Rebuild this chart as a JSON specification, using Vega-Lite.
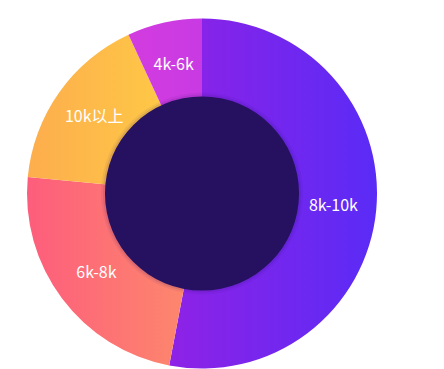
{
  "$schema": "https://vega.github.io/schema/vega-lite/v6.json",
  "width": 350,
  "height": 350,
  "autosize": {"type": "none"},
  "padding": {"left": 27, "top": 18.5, "right": 0, "bottom": 0},
  "background": "#ffffff",
  "view": {"stroke": null},
  "datasets": {
    "salary": [
      {"range": "8k-10k", "value": 53.0, "rank": 1},
      {"range": "6k-8k", "value": 23.5, "rank": 2},
      {"range": "10k以上", "value": 16.6, "rank": 3},
      {"range": "4k-6k", "value": 6.9, "rank": 4}
    ],
    "hole": [{"part": "center"}]
  },
  "layer": [
    {
      "data": {"name": "salary"},
      "transform": [
        {"stack": "value", "groupby": [], "sort": [{"field": "rank", "order": "ascending"}], "as": ["t0", "t1"]},
        {"filter": "datum.range === '8k-10k'"}
      ],
      "mark": {"type": "arc", "outerRadius": 175, "innerRadius": 90,
        "fill": {"gradient": "linear", "x1": 0, "y1": 0, "x2": 1, "y2": 0, "stops": [{"offset": 0, "color": "#8f22e6"}, {"offset": 1, "color": "#5a2bf6"}]}},
      "encoding": {
        "theta": {"field": "t0", "type": "quantitative", "scale": {"domain": [0, 100]}},
        "theta2": {"field": "t1"}
      }
    },
    {
      "data": {"name": "salary"},
      "transform": [
        {"stack": "value", "groupby": [], "sort": [{"field": "rank", "order": "ascending"}], "as": ["t0", "t1"]},
        {"filter": "datum.range === '6k-8k'"}
      ],
      "mark": {"type": "arc", "outerRadius": 175, "innerRadius": 90,
        "fill": {"gradient": "linear", "x1": 0, "y1": 0, "x2": 1, "y2": 0, "stops": [{"offset": 0, "color": "#fd5d7c"}, {"offset": 1, "color": "#fd876d"}]}},
      "encoding": {
        "theta": {"field": "t0", "type": "quantitative", "scale": {"domain": [0, 100]}},
        "theta2": {"field": "t1"}
      }
    },
    {
      "data": {"name": "salary"},
      "transform": [
        {"stack": "value", "groupby": [], "sort": [{"field": "rank", "order": "ascending"}], "as": ["t0", "t1"]},
        {"filter": "datum.range === '10k以上'"}
      ],
      "mark": {"type": "arc", "outerRadius": 175, "innerRadius": 90,
        "fill": {"gradient": "linear", "x1": 0, "y1": 0, "x2": 1, "y2": 0, "stops": [{"offset": 0, "color": "#fdad4d"}, {"offset": 1, "color": "#fec846"}]}},
      "encoding": {
        "theta": {"field": "t0", "type": "quantitative", "scale": {"domain": [0, 100]}},
        "theta2": {"field": "t1"}
      }
    },
    {
      "data": {"name": "salary"},
      "transform": [
        {"stack": "value", "groupby": [], "sort": [{"field": "rank", "order": "ascending"}], "as": ["t0", "t1"]},
        {"filter": "datum.range === '4k-6k'"}
      ],
      "mark": {"type": "arc", "outerRadius": 175, "innerRadius": 90,
        "fill": {"gradient": "linear", "x1": 0, "y1": 0, "x2": 1, "y2": 0, "stops": [{"offset": 0, "color": "#d23cdf"}, {"offset": 1, "color": "#c93ae3"}]}},
      "encoding": {
        "theta": {"field": "t0", "type": "quantitative", "scale": {"domain": [0, 100]}},
        "theta2": {"field": "t1"}
      }
    },
    {
      "data": {"name": "hole"},
      "mark": {"type": "arc", "theta": 0, "theta2": 6.2832, "outerRadius": 101, "innerRadius": 0, "fill": "#25115f", "opacity": 0.06},
      "encoding": {}
    },
    {
      "data": {"name": "hole"},
      "mark": {"type": "arc", "theta": 0, "theta2": 6.2832, "outerRadius": 99, "innerRadius": 0, "fill": "#25115f", "opacity": 0.1},
      "encoding": {}
    },
    {
      "data": {"name": "hole"},
      "mark": {"type": "arc", "theta": 0, "theta2": 6.2832, "outerRadius": 97, "innerRadius": 0, "fill": "#25115f"},
      "encoding": {}
    },
    {
      "data": {"name": "salary"},
      "mark": {"type": "text", "radius": 132, "fontSize": 16, "font": "Noto Sans CJK SC", "fill": "#ffffff", "align": "center", "baseline": "middle"},
      "encoding": {
        "theta": {"field": "value", "type": "quantitative", "stack": true, "scale": {"domain": [0, 100]}},
        "order": {"field": "rank", "type": "quantitative"},
        "text": {"field": "range", "type": "nominal"}
      }
    }
  ]
}
